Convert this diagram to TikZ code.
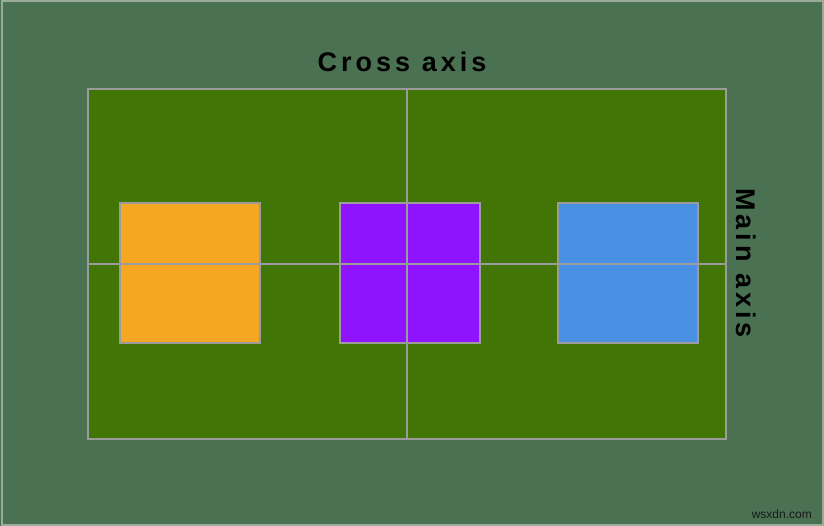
\documentclass[tikz,border=0pt]{standalone}
\usepackage{fontspec}
\setmainfont{Liberation Sans}
\newfontfamily\axisfont[LetterSpace=15]{Liberation Sans}
\definecolor{bgc}{HTML}{4A7152}
\definecolor{panel}{HTML}{417505}
\definecolor{linec}{HTML}{9B9B9B}
\definecolor{outerc}{HTML}{9AAB9A}
\definecolor{orangec}{HTML}{F5A623}
\definecolor{purplec}{HTML}{9013FE}
\definecolor{bluec}{HTML}{4A90E2}
\tikzset{
  itembox/.style={draw=linec, line width=2pt, minimum width=140pt, minimum height=140pt, inner sep=0pt, anchor=north west},
  axisline/.style={draw=linec, line width=1.5pt},
  axislabel/.style={font=\axisfont\bfseries\fontsize{27}{30}\selectfont, text=black, inner sep=0pt}
}
\begin{document}
\begin{tikzpicture}[x=1pt,y=-1pt]
\useasboundingbox (0,0) rectangle (824,526);
\fill[bgc] (0,0) rectangle (824,526);
\draw[outerc, line width=2pt] (1.5,1.5) rectangle (822.5,524.5);
\node[draw=linec, line width=2pt, fill=panel, minimum width=638pt, minimum height=350pt, inner sep=0pt, anchor=north west] (c) at (87,88) {};
\node[itembox, fill=orangec] (o) at (119,202) {};
\node[itembox, fill=purplec] (p) at (339,202) {};
\node[itembox, fill=bluec] (b) at (557,202) {};
\draw[axisline] (c.north) -- (c.south);
\draw[axisline] (c.west) -- (c.east);
\node[axislabel] (cross) at (402,62) {Cross axis};
\node[axislabel, rotate=-90] (main) at (746,263) {Main axis};
\node[font=\fontsize{12}{14}\selectfont, text=black!90, anchor=base east, inner sep=0pt] (wm) at (812,518) {wsxdn.com};
\end{tikzpicture}
\end{document}
